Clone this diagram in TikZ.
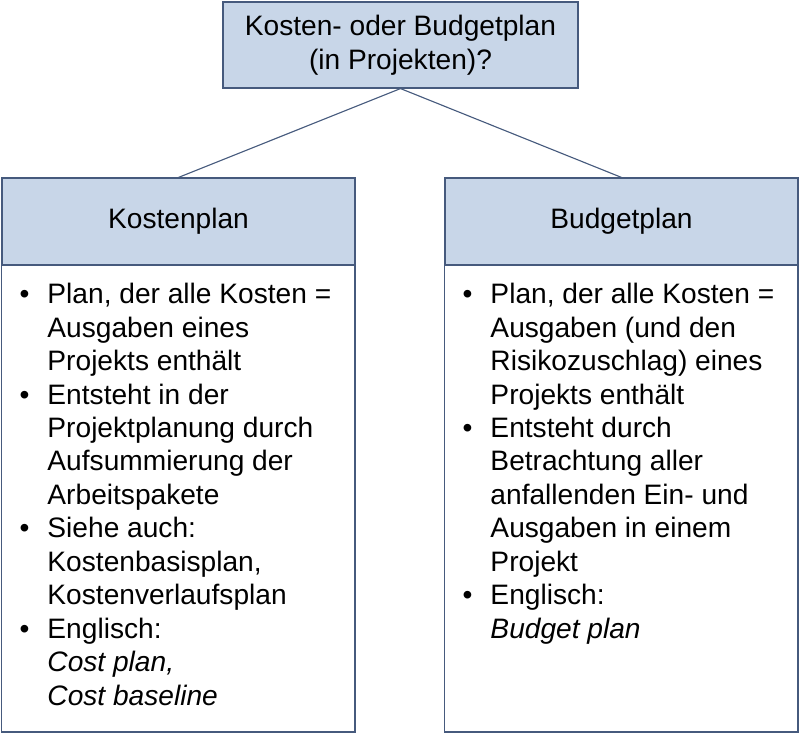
\documentclass[tikz,border=0pt]{standalone}
\usepackage{fontspec}
\setmainfont{Liberation Sans}
\usetikzlibrary{positioning}
\definecolor{headfill}{RGB}{200, 214, 232}
\definecolor{frameblue}{RGB}{70, 90, 125}
\newcommand{\bodyfont}{\fontsize{20}{23.8}\selectfont}
\newcommand{\bulletlist}[1]{\begin{minipage}[t]{8.6cm}\bodyfont
  \begin{list}{\textbullet}{\setlength{\leftmargin}{0.93cm}\setlength{\labelwidth}{0.5cm}%
  \setlength{\labelsep}{0.45cm}\setlength{\itemsep}{0pt}\setlength{\parsep}{0pt}\setlength{\topsep}{0pt}}
  #1\end{list}\end{minipage}}
\begin{document}
\begin{tikzpicture}[x=0.025cm, y=-0.025cm,
        headbox/.style={rectangle, draw=frameblue, thick, fill=headfill, align=center, font=\bodyfont},
        bodybox/.style={rectangle, draw=frameblue, thick, fill=white},
        link/.style={frameblue, thick}
    ]
    \useasboundingbox (0,0) rectangle (800,734);

    % Top question
    \node[headbox, minimum width=355*0.025cm, minimum height=86*0.025cm] (question) at (400.5,45) {Kosten- oder Budgetplan\\(in Projekten)?};

    % Headers
    \node[headbox, minimum width=353*0.025cm, minimum height=87*0.025cm] (kosten) at (178.5,221.5) {Kostenplan};
    \node[headbox, minimum width=353*0.025cm, minimum height=87*0.025cm] (budget) at (621.5,221.5) {Budgetplan};

    % Bodies
    \draw[bodybox] (kosten.south west) rectangle (355,732);
    \draw[bodybox] (budget.south west) rectangle (798,732);

    \node[anchor=north west, inner sep=0pt] (kostentext) at (10,283) {\bulletlist{%
      \item Plan, der alle Kosten =\\Ausgaben eines\\Projekts enthält
      \item Entsteht in der\\Projektplanung durch\\Aufsummierung der\\Arbeitspakete
      \item Siehe auch:\\Kostenbasisplan,\\Kostenverlaufsplan
      \item Englisch:\\\textit{Cost plan,}\\\textit{Cost baseline}}};
    \node[anchor=north west, inner sep=0pt] (budgettext) at (453,283) {\bulletlist{%
      \item Plan, der alle Kosten =\\Ausgaben (und den\\Risikozuschlag) eines\\Projekts enthält
      \item Entsteht durch\\Betrachtung aller\\anfallenden Ein- und\\Ausgaben in einem\\Projekt
      \item Englisch:\\\textit{Budget plan}}};

    % Links
    \draw[link] (question.south) -- (kosten.north);
    \draw[link] (question.south) -- (budget.north);
\end{tikzpicture}
\end{document}
